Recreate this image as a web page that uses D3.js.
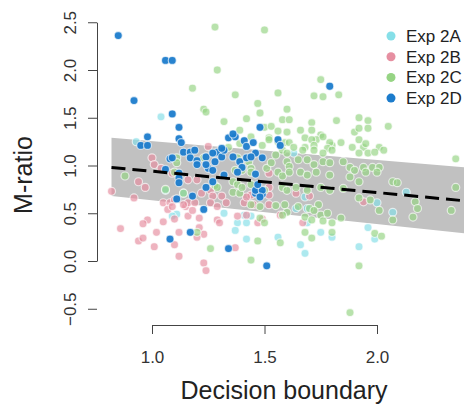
<!DOCTYPE html>
<html lang="en">
  <head>
    <meta charset="utf-8">
    <title>M-ratio vs decision boundary</title>
    <script src="https://d3js.org/d3.v7.js"></script>
    <style>
    body {margin: 0; background: white;}
    text {font-family: "Liberation Sans", Arial, Helvetica, sans-serif;}
    </style>
  </head>
  <body>
  <script>

  // points: [decision boundary, M-ratio]
  var exp2A = [[1.04,1.51],[0.93,1.25],[1.06,0.74],[1.14,0.71],[1.11,0.49],[1.09,0.47],[1.32,0.50],[1.41,0.48],
    [1.44,0.47],[1.38,0.40],[1.42,0.40],[1.69,0.40],[1.64,0.55],[1.69,0.55],[1.37,0.32],[1.42,0.23],[1.56,0.25],
    [1.75,0.30],[1.66,0.17],[1.68,0.08],[1.80,0.25],[1.96,0.35],[1.99,0.23],[1.92,0.15],[1.63,1.13],[1.68,0.67],
    [2.00,0.61],[2.13,0.72],[2.07,0.51]];

  var exp2B = [[1.25,1.20],[1.00,1.08],[1.01,1.01],[0.82,0.73],[0.94,0.83],[0.97,0.77],[1.04,0.97],[1.09,0.92],
    [1.16,0.85],[1.20,0.85],[1.22,0.71],[1.26,0.74],[0.92,0.66],[1.27,0.68],[1.31,0.68],[1.05,0.61],[1.08,0.61],
    [1.10,0.64],[1.15,0.57],[1.16,0.61],[1.19,0.61],[1.07,0.54],[1.10,0.44],[1.16,0.47],[1.21,0.45],[0.98,0.43],
    [0.96,0.39],[0.86,0.34],[1.05,0.41],[1.02,0.30],[1.12,0.30],[1.23,0.28],[1.29,0.43],[1.30,0.40],[0.94,0.21],
    [0.96,0.24],[1.10,0.17],[1.01,0.15],[1.12,0.05],[1.23,-0.02],[1.24,-0.10],[1.44,0.69],[1.52,0.69],[1.33,0.61],
    [1.41,0.61],[1.45,0.59],[1.52,0.59],[1.38,0.47],[1.42,0.48],[1.47,0.40],[1.49,0.44],[1.57,0.48],[1.67,0.40],
    [1.37,0.14],[1.94,0.62],[1.52,0.92],[1.52,0.77],[1.42,0.67],[1.64,0.71],[1.70,0.68],[1.14,0.59],[1.26,0.61],
    [1.29,0.57],[1.09,0.57],[1.18,0.53],[1.21,0.35],[1.20,0.25],[1.47,0.72]];

  var exp2C = [[1.28,2.45],[1.50,2.42],[1.29,2.00],[1.18,1.81],[1.23,1.59],[1.24,1.56],[0.88,0.89],[1.10,0.93],
    [1.11,1.08],[1.11,1.03],[1.06,0.75],[1.28,0.79],[1.29,0.77],[1.14,0.71],[1.26,0.13],[1.20,0.30],[1.37,1.74],
    [1.56,1.76],[1.47,1.65],[1.72,1.73],[1.76,1.72],[1.83,1.74],[1.75,1.90],[1.60,1.59],[1.48,1.55],[1.42,1.49],
    [1.58,1.48],[1.61,1.48],[1.71,1.45],[1.71,1.37],[1.92,1.50],[1.96,1.47],[2.05,1.41],[1.82,1.47],[1.32,1.46],
    [1.39,1.37],[1.50,1.40],[1.53,1.41],[1.56,1.36],[1.60,1.35],[1.66,1.37],[1.90,1.35],[1.92,1.39],[1.96,1.39],
    [1.75,1.32],[1.73,1.27],[1.44,1.30],[1.52,1.29],[1.56,1.25],[1.59,1.24],[1.68,1.29],[1.71,1.27],[1.76,1.30],
    [1.39,1.23],[1.52,1.27],[1.61,1.24],[1.84,1.24],[1.80,1.21],[1.34,1.19],[1.49,1.21],[1.63,1.19],[1.68,1.19],
    [1.72,1.21],[1.79,1.24],[1.89,1.19],[1.94,1.19],[2.01,1.19],[2.03,1.16],[1.58,1.16],[1.60,1.13],[1.67,1.16],
    [1.72,1.16],[1.78,1.18],[1.80,1.16],[1.76,1.13],[1.92,1.13],[1.96,1.13],[1.99,1.14],[2.35,1.07],[1.92,1.27],
    [1.95,1.23],[1.43,1.04],[1.44,0.97],[1.51,0.97],[1.53,1.03],[1.55,1.11],[1.60,1.04],[1.61,0.99],[1.65,1.06],
    [1.69,1.06],[1.72,1.01],[1.76,1.04],[1.79,1.03],[1.85,1.04],[1.88,0.98],[1.90,0.95],[1.94,0.98],[1.98,0.98],
    [2.01,0.98],[1.37,0.95],[1.40,0.95],[1.56,0.93],[1.58,0.89],[1.61,0.93],[1.66,0.93],[1.69,0.90],[1.73,0.93],
    [1.79,0.90],[1.88,0.88],[1.92,0.83],[1.95,0.93],[2.00,0.93],[2.07,0.83],[2.09,0.82],[1.23,1.08],[1.38,1.08],
    [1.44,0.93],[1.36,0.83],[1.38,0.80],[1.36,0.72],[1.39,0.71],[1.50,0.74],[1.40,0.77],[1.44,0.80],[1.58,0.77],
    [1.60,0.74],[1.64,0.77],[1.69,0.74],[1.75,0.77],[1.79,0.74],[1.85,0.76],[1.44,0.59],[1.48,0.57],[1.55,0.58],
    [1.59,0.59],[1.65,0.57],[1.70,0.55],[1.74,0.59],[1.60,0.51],[1.58,0.48],[1.68,0.46],[1.72,0.53],[1.75,0.48],
    [1.78,0.50],[1.76,0.42],[1.80,0.40],[1.84,0.45],[1.71,0.43],[1.48,0.45],[1.50,0.40],[1.47,0.21],[1.57,0.19],
    [1.68,0.30],[1.71,0.24],[1.80,0.30],[1.44,0.01],[1.92,0.66],[1.97,0.64],[2.17,0.62],[2.18,0.55],[2.16,0.46],
    [2.07,0.43],[2.35,0.77],[2.33,0.53],[1.99,0.29],[2.02,0.26],[1.92,-0.05],[1.88,-0.54],[2.01,0.53]];

  var exp2D = [[0.85,2.36],[1.06,2.10],[1.09,2.10],[0.92,1.68],[1.09,1.54],[1.12,1.40],[0.98,1.30],[0.95,1.21],
    [0.98,1.21],[1.12,1.28],[1.13,1.24],[1.34,1.29],[1.37,1.30],[1.14,1.14],[1.17,1.14],[1.17,1.08],[1.20,1.05],
    [1.24,1.09],[1.28,1.04],[1.29,1.14],[1.31,1.09],[1.08,1.07],[1.06,0.96],[1.12,0.92],[1.12,0.87],[1.25,0.97],
    [1.27,0.95],[1.12,0.82],[1.18,0.68],[1.24,0.77],[1.11,0.65],[1.23,0.54],[1.17,0.30],[1.08,0.23],[1.34,0.13],
    [1.46,0.71],[1.49,0.70],[1.51,-0.05],[1.48,1.40],[1.36,1.33],[1.41,1.26],[1.42,1.20],[1.45,1.24],[1.46,1.13],
    [1.56,1.27],[1.57,1.21],[1.32,1.16],[1.36,1.09],[1.39,1.04],[1.40,0.98],[1.49,1.08],[1.46,0.91],[1.32,0.90],
    [1.46,0.74],[1.49,0.74],[1.79,1.83],[1.19,1.16],[1.31,1.18],[1.27,1.13],[1.09,1.08],[1.20,1.01],[1.24,1.01],
    [1.42,1.08],[1.44,1.09],[1.38,0.93],[1.27,0.83],[1.47,0.80],[1.48,0.67]];

  // regression line and shaded band at the two ends
  var fitX = [0.82, 2.39];
  var fitY = [0.98, 0.63];
  var bandLo = [0.68, 0.29];
  var bandHi = [1.29, 0.98];

  var groups = ["Exp 2A", "Exp 2B", "Exp 2C", "Exp 2D"];
  var colors = ["#86dfe8", "#e68fa1", "#96d484", "#1c7ccc"];
  var xTicks = [1.0, 1.5, 2.0];
  var yTicks = [-0.5, 0.0, 0.5, 1.0, 1.5, 2.0, 2.5];

  var w = 464;
  var h = 407;

  var svg = d3.select("body")
      .append("svg")
      .attr("width", w)
      .attr("height", h);

  var xScale = d3.scaleLinear()
      .domain([1, 2])
      .range([152, 377]);

  var yScale = d3.scaleLinear()
      .domain([0, 2.5])
      .range([261, 22.25]);

  // band
  var bandData = fitX.map((x, i) => ({x: x, lo: bandLo[i], hi: bandHi[i]}));
  svg.append("path")
     .datum(bandData)
     .attr("fill", "#c1c1c1")
     .attr("d", d3.area()
        .x(d => xScale(d.x))
        .y0(d => yScale(d.lo))
        .y1(d => yScale(d.hi)));

  // points
  var sets = [exp2A, exp2B, exp2C, exp2D];
  sets.forEach(function(pts, g) {
    svg.selectAll(".pt" + g)
       .data(pts)
       .join("circle")
       .attr("class", "pt" + g)
       .attr("cx", d => xScale(d[0]))
       .attr("cy", d => yScale(d[1]))
       .attr("r", 4)
       .attr("fill", colors[g])
       .attr("fill-opacity", g == 3 ? 0.95 : 0.68)
       .attr("stroke", "white")
       .attr("stroke-opacity", 0.65)
       .attr("stroke-width", 1.2);
  });

  // dashed fit line
  svg.append("path")
     .datum(fitX.map((x, i) => [x, fitY[i]]))
     .attr("fill", "none")
     .attr("stroke", "black")
     .attr("stroke-width", 3)
     .attr("stroke-dasharray", "14,7")
     .attr("d", d3.line()
        .x(d => xScale(d[0]))
        .y(d => yScale(d[1])));

  // y axis
  var yAxis = d3.axisLeft(yScale)
      .tickValues(yTicks)
      .tickSize(9)
      .tickSizeOuter(0)
      .tickFormat(d3.format(".1f"));
  var gy = svg.append("g")
      .attr("transform", "translate(97,0)")
      .call(yAxis);
  gy.select(".domain").attr("stroke", "#444");
  gy.selectAll(".tick line").attr("stroke", "#444");
  gy.selectAll(".tick text")
    .attr("x", null)
    .attr("dy", null)
    .attr("fill", "#333")
    .style("font-size", "17px")
    .attr("text-anchor", "middle")
    .attr("transform", "translate(-21,0) rotate(-90)");

  // x axis
  var xAxis = d3.axisBottom(xScale)
      .tickValues(xTicks)
      .tickSize(9)
      .tickSizeOuter(0)
      .tickFormat(d3.format(".1f"));
  var gx = svg.append("g")
      .attr("transform", "translate(0,325)")
      .call(xAxis);
  gx.select(".domain").attr("stroke", "#444");
  gx.selectAll(".tick line").attr("stroke", "#444");
  gx.selectAll(".tick text")
    .attr("y", 38)
    .attr("dy", null)
    .attr("fill", "#333")
    .style("font-size", "17px");

  // axis titles
  svg.append("text")
     .attr("text-anchor", "middle")
     .attr("transform", "translate(32,175) rotate(-90)")
     .style("font-size", "25px")
     .attr("fill", "#222")
     .text("M-ratio");

  svg.append("text")
     .attr("text-anchor", "middle")
     .attr("x", 284)
     .attr("y", 399)
     .style("font-size", "25px")
     .attr("fill", "#222")
     .text("Decision boundary");

  // legend
  var legend = svg.selectAll(".legend")
      .data(groups)
      .join("g")
      .attr("class", "legend")
      .attr("transform", (d, i) => "translate(391," + (36 + i * 20.7) + ")");
  legend.append("circle")
      .attr("r", 4.5)
      .attr("fill", (d, i) => colors[i]);
  legend.append("text")
      .attr("x", 15)
      .attr("dy", "0.35em")
      .style("font-size", "17px")
      .attr("fill", "#222")
      .text(d => d);

  </script>
  </body>
</html>
